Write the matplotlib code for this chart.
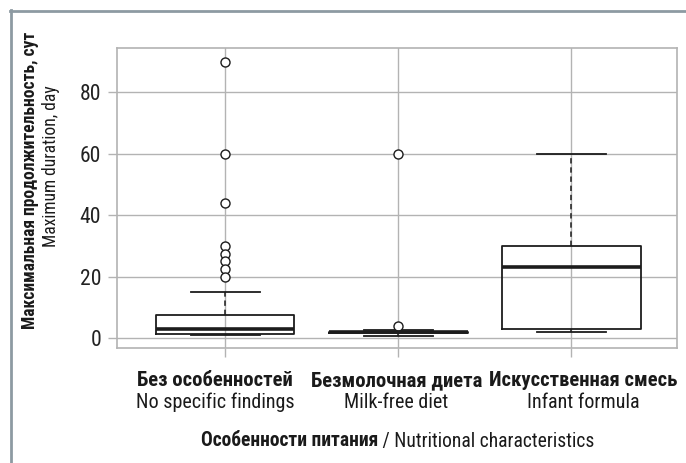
import matplotlib
matplotlib.use('Agg')
import matplotlib.pyplot as plt
from matplotlib import font_manager
from matplotlib.lines import Line2D
from matplotlib.transforms import offset_copy

# ---- data ----
categories_ru = ["Без особенностей", "Безмолочная диета", "Искусственная смесь"]
categories_en = ["No specific findings", "Milk-free diet", "Infant formula"]
whisker_low = [1.0, 0.7, 2.0]
q1 = [1.4, 1.5, 2.8]
median = [2.8, 1.85, 23.2]
q3 = [7.6, 2.0, 30.0]
whisker_high = [15.0, 2.6, 60.0]
outliers = [[90, 60, 44, 30, 27.5, 25, 22.5, 20], [60, 4], []]
y_ticks = [0, 20, 40, 60, 80]
ylabel_ru = "Максимальная продолжительность, сут"
ylabel_en = "Maximum duration, day"
xlabel_ru = "Особенности питания"
xlabel_en = " / Nutritional characteristics"

# ---- font choice: prefer a condensed face ----
ttf = font_manager.fontManager.ttflist
names = {f.name for f in ttf}
STRETCH = 'normal'
if 'Liberation Sans Narrow' in names:
    FONT = 'Liberation Sans Narrow'
elif 'Roboto Condensed' in names:
    FONT = 'Roboto Condensed'
elif any(f.name == 'DejaVu Sans' and 'ondensed' in f.fname for f in ttf):
    FONT = 'DejaVu Sans'
    STRETCH = 'condensed'
else:
    FONT = 'Roboto'
plt.rcParams['font.family'] = [FONT, 'DejaVu Sans']
plt.rcParams['font.stretch'] = STRETCH

W, H = 686, 463
fig = plt.figure(figsize=(W / 100, H / 100), dpi=100)
fig.canvas.draw()
R = fig.canvas.get_renderer()


def fit_size(text, target_px, weight='normal'):
    t = fig.text(0, 0, text, fontsize=10, fontweight=weight)
    w = t.get_window_extent(R).width
    t.remove()
    return 10 * target_px / w


ax = fig.add_axes([117 / W, 1 - 348 / H, (677 - 117) / W, (348 - 48) / H])

positions = [1, 2, 3]
stats = []
for i in range(len(categories_ru)):
    stats.append(dict(med=median[i], q1=q1[i], q3=q3[i],
                      whislo=whisker_low[i], whishi=whisker_high[i],
                      fliers=outliers[i]))

dark = '#1c1c1c'
ax.bxp(stats, positions=positions, widths=0.8, capwidths=0.4,
       showfliers=True,
       boxprops=dict(color=dark, linewidth=1.3),
       medianprops=dict(color=dark, linewidth=2.6, solid_capstyle='butt'),
       whiskerprops=dict(color=dark, linewidth=1.1, linestyle=(0, (3.5, 2.5))),
       capprops=dict(color=dark, linewidth=1.3),
       flierprops=dict(marker='o', markerfacecolor='white', markeredgecolor=dark,
                       markersize=6.5, markeredgewidth=1.0, linestyle='none'))

grid_c = '#b3b3b3'
ax.set_xlim(0.375, 3.61)
ax.set_ylim(-3.3, 94.5)
ax.set_xticks(positions)
ax.set_yticks(y_ticks)
ax.set_yticklabels([str(t) for t in y_ticks])
ax.grid(True, color=grid_c, linewidth=1.0)
ax.set_axisbelow(True)
for s in ax.spines.values():
    s.set_color(grid_c)
    s.set_linewidth(1.2)
tick_fs = fit_size("80", 21)
ax.tick_params(axis='both', direction='out', length=6.5, width=1.0, color=grid_c,
               labelsize=tick_fs, labelcolor='#222222')
ax.tick_params(axis='x', labelbottom=False)
ax.tick_params(axis='y', pad=5)

# category labels (slight horizontal offsets as in the original layout, in points)
label_dx_pt = [-7.2, -1.4, 8.6]
cat_fs = fit_size(categories_ru[0], 155, 'bold')
tr = ax.get_xaxis_transform()
for i, p in enumerate(positions):
    trx = offset_copy(tr, fig=fig, x=label_dx_pt[i], y=0, units='points')
    ax.text(p, -0.11, categories_ru[i], transform=trx, ha='center', va='center',
            fontsize=cat_fs, fontweight='bold', color='#1a1a1a')
    ax.text(p, -0.18, categories_en[i], transform=trx, ha='center', va='center',
            fontsize=cat_fs * 0.98, color='#1a1a1a')

# y label (two lines)
yl_fs = fit_size(ylabel_ru, 298, 'bold')
ye_fs = yl_fs
fig.text(30 / W, 1 - 180 / H, ylabel_ru, rotation=90, ha='center', va='center',
         fontsize=yl_fs, fontweight='bold', color='#1a1a1a')
fig.text(51 / W, 1 - 166 / H, ylabel_en, rotation=90, ha='center', va='center',
         fontsize=ye_fs, color='#1a1a1a')

# x title: bold + regular, centered
tt_fs = fit_size(xlabel_ru + xlabel_en, 393)
t1 = fig.text(0, 1 - 441 / H, xlabel_ru, ha='left', va='center', fontsize=tt_fs,
              fontweight='bold', color='#1a1a1a')
t2 = fig.text(0, 1 - 441 / H, xlabel_en, ha='left', va='center', fontsize=tt_fs,
              color='#1a1a1a')
w1 = t1.get_window_extent(R).width
w2 = t2.get_window_extent(R).width
cx = 397.5
start = cx - (w1 + w2) / 2
t1.set_x(start / W)
t2.set_x((start + w1) / W)

# outer frame
fc = '#8d9aa2'
fig.add_artist(Line2D([10.5 / W, 10.5 / W], [0, 1 - 10 / H], transform=fig.transFigure,
                      color=fc, linewidth=2.0))
fig.add_artist(Line2D([9.5 / W, 1], [1 - 10.5 / H, 1 - 10.5 / H], transform=fig.transFigure,
                      color=fc, linewidth=2.0))

fig.savefig('out.png', dpi=100)
